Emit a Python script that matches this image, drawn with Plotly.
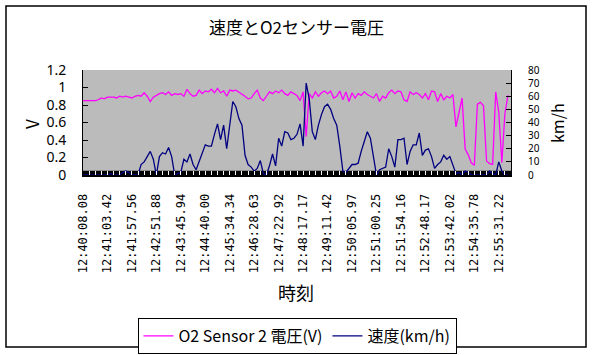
import plotly.graph_objects as go

# ---- data (one sample every 1/8 of a label interval) ----
time_labels = ["12:40:08.08", "12:41:03.42", "12:41:57.56", "12:42:51.88", "12:43:45.94",
               "12:44:40.00", "12:45:34.34", "12:46:28.63", "12:47:22.92", "12:48:17.17",
               "12:49:11.42", "12:50:05.97", "12:51:00.25", "12:51:54.16", "12:52:48.17",
               "12:53:42.02", "12:54:35.78", "12:55:31.22"]

o2_voltage = [
    0.85, 0.85, 0.85, 0.85, 0.85, 0.86, 0.88, 0.87, 0.89, 0.89,
    0.89, 0.88, 0.90, 0.89, 0.90, 0.89, 0.88, 0.90, 0.91, 0.90,
    0.94, 0.90, 0.84, 0.89, 0.91, 0.93, 0.94, 0.92, 0.95, 0.91,
    0.93, 0.92, 0.93, 0.90, 0.98, 0.93, 0.90, 0.91, 0.97, 0.93,
    0.96, 0.95, 0.98, 0.94, 0.99, 0.94, 0.96, 0.90, 0.97, 0.96,
    0.97, 0.95, 0.93, 0.90, 0.87, 0.88, 0.93, 0.97, 0.88, 0.85,
    0.90, 0.95, 0.93, 0.96, 0.94, 0.97, 0.93, 0.91, 0.95, 0.93,
    0.91, 0.85, 0.95, 0.44, 0.93, 0.88, 0.95, 0.90, 0.94, 0.96,
    0.93, 0.96, 0.88, 0.90, 0.96, 0.86, 0.95, 0.84, 0.94, 0.88,
    0.93, 0.91, 0.95, 0.92, 0.90, 0.88, 0.93, 0.84, 0.90, 0.88,
    0.94, 0.97, 0.93, 0.96, 0.95, 0.86, 0.84, 0.95, 0.92, 0.94,
    0.92, 0.88, 0.93, 0.86, 0.96, 0.95, 0.84, 0.93, 0.86, 0.90,
    0.88, 0.92, 0.55, 0.70, 0.88, 0.30, 0.23, 0.14, 0.11, 0.81,
    0.83, 0.79, 0.16, 0.13, 0.12, 0.95, 0.72, 0.14, 0.70, 0.91,
]

speed_kmh = [
    0, 0, 0, 0, 0, 0, 0, 0, 0, 1,
    0, 0, 0, 2, 3, 2, 0, 0, 0, 8,
    10, 14, 18, 12, 0, 14, 17, 16, 21, 14,
    0, 1, 2, 12, 10, 16, 8, 4, 10, 17,
    23, 22, 22, 31, 39, 27, 38, 20, 40, 56,
    52, 43, 38, 15, 8, 6, 3, 5, 11, 1,
    0, 7, 16, 7, 28, 22, 33, 32, 27, 28,
    31, 39, 22, 70, 58, 33, 27, 38, 46, 52,
    54, 50, 43, 38, 22, 3, 2, 5, 8, 8,
    9, 18, 26, 33, 28, 13, 0, 4, 5, 6,
    20, 14, 6, 27, 27, 28, 8, 18, 23, 23,
    32, 15, 19, 20, 14, 5, 8, 10, 15, 12,
    14, 8, 1, 2, 0, 3, 2, 0, 0, 0,
    0, 0, 0, 3, 1, 0, 10, 3, 0, 0,
]

samples_per_label = 8
sample_index = list(range(len(o2_voltage)))
label_positions = [i * samples_per_label for i in range(len(time_labels))]

# ---- layout geometry (pixels) ----
W, H = 592, 355
L, R, T, B = 83, 81, 70, 180
PW, PH = W - L - R, H - T - B


def px(x):
    return (x - L) / PW


def py(y):
    return (H - B - y) / PH


JP = "Noto Sans CJK JP"

fig = go.Figure()
fig.add_trace(go.Scatter(
    x=sample_index, y=o2_voltage, mode="lines", name="O2 Sensor 2 電圧(V)",
    line=dict(color="#FF00FF", width=1.3), yaxis="y",
))
fig.add_trace(go.Scatter(
    x=sample_index, y=speed_kmh, mode="lines", name="速度(km/h)",
    line=dict(color="#000080", width=1.3), yaxis="y2",
))

fig.update_layout(
    width=W, height=H,
    margin=dict(l=L, r=R, t=T, b=B, pad=0, autoexpand=False),
    paper_bgcolor="white",
    plot_bgcolor="#BBBBBB",
    font=dict(family=JP, color="black", size=14),
    showlegend=True,
    legend=dict(
        orientation="h", x=0.5, xanchor="center", y=py(318), yanchor="top",
        bordercolor="black", borderwidth=1, bgcolor="white",
        font=dict(family=JP, size=16), itemwidth=30, tracegroupgap=0,
    ),
    xaxis=dict(
        range=[0, len(o2_voltage)], tickmode="array", tickvals=label_positions,
        ticktext=time_labels, tickangle=-90, automargin=False,
        tickfont=dict(family="DejaVu Sans Mono", size=12),
        ticks="inside", ticklen=4, tickcolor="white", tickwidth=1,
        minor=dict(tickmode="linear", tick0=0, dtick=2, ticks="inside", ticklen=4,
                   tickcolor="white", tickwidth=1, showgrid=False),
        showgrid=False, zeroline=False, showline=True, linecolor="black", linewidth=2,
        ticklabelstandoff=12,
    ),
    yaxis=dict(
        range=[0, 1.2], dtick=0.2, tick0=0, ticks="inside", ticklen=5, tickcolor="black",
        showgrid=False, zeroline=False, showline=True, linecolor="black", linewidth=1,
        tickfont=dict(family="Noto Sans", size=14), ticklabelstandoff=13, automargin=False,
    ),
    yaxis2=dict(
        range=[0, 80], dtick=10, tick0=0, overlaying="y", side="right",
        ticks="inside", ticklen=5, tickcolor="black", automargin=False,
        showgrid=False, zeroline=False, showline=True, linecolor="black", linewidth=1,
        tickfont=dict(family="Noto Sans", size=10), ticklabelstandoff=14,
    ),
    shapes=[
        dict(type="rect", xref="paper", yref="y", x0=0, x1=1, y0=0, y1=0.05,
             fillcolor="black", line=dict(width=0), layer="below"),
        dict(type="rect", xref="paper", yref="paper", x0=px(6), x1=px(586),
             y0=py(347), y1=py(6), line=dict(color="black", width=1.5),
             fillcolor="rgba(0,0,0,0)", layer="above"),
    ],
    annotations=[
        dict(text="速度とO2センサー電圧", x=px(296), y=py(27), xref="paper", yref="paper",
             showarrow=False, font=dict(family=JP, size=17), xanchor="center", yanchor="middle"),
        dict(text="V", x=px(31), y=py(124), xref="paper", yref="paper", textangle=-90,
             showarrow=False, font=dict(family=JP, size=17), xanchor="center", yanchor="middle"),
        dict(text="km/h", x=px(557), y=py(123), xref="paper", yref="paper", textangle=-90,
             showarrow=False, font=dict(family=JP, size=16), xanchor="center", yanchor="middle"),
        dict(text="時刻", x=px(296), y=py(292), xref="paper", yref="paper",
             showarrow=False, font=dict(family=JP, size=18), xanchor="center", yanchor="middle"),
    ],
)

fig.write_html(
    "out.html",
    config={"displayModeBar": False},
    post_script="document.body.style.margin='0';document.body.style.overflow='hidden';",
)
